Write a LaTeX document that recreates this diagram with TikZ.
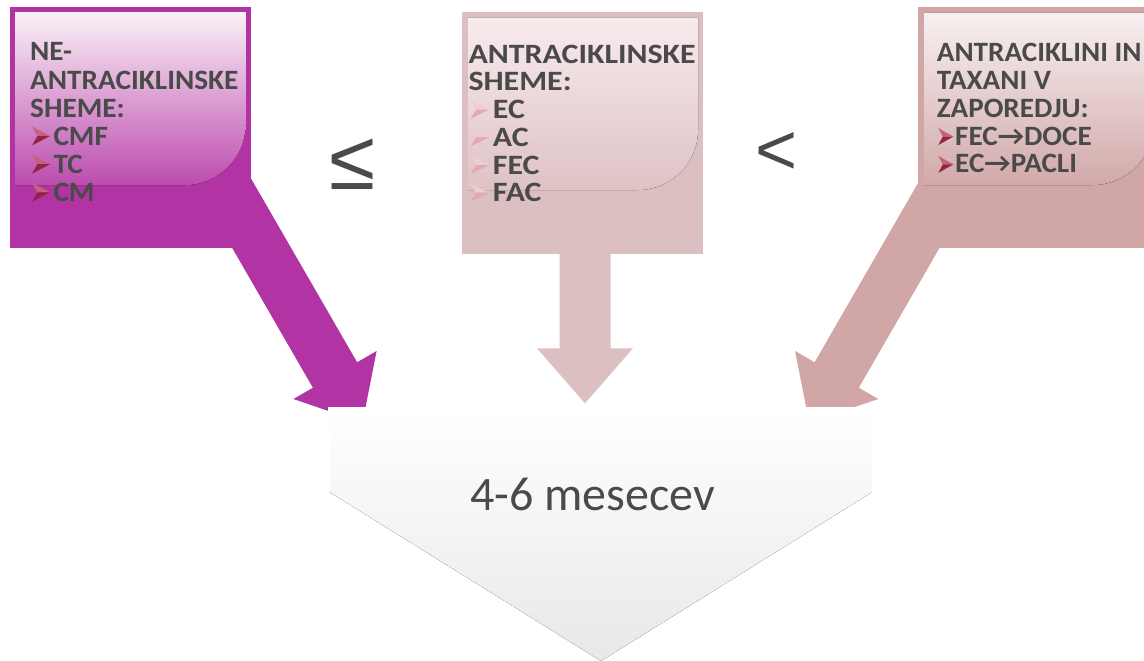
\documentclass[tikz,border=0pt]{standalone}
\usepackage{fontspec}
\setmainfont{Carlito}
\newfontfamily\boxfontL[FakeStretch=1.045]{Carlito}
\newfontfamily\boxfontM[FakeStretch=1.14]{Carlito}
\newfontfamily\boxfontR[FakeStretch=1.04]{Carlito}
\newfontfamily\symfont{Liberation Sans}
\definecolor{magbox}{RGB}{178,51,163}
\definecolor{midbox}{RGB}{220,191,193}
\definecolor{rbox}{RGB}{208,166,166}
\definecolor{txt}{RGB}{74,74,74}
\definecolor{bulTopA}{RGB}{196,98,124}
\definecolor{bulBotA}{RGB}{148,36,70}
\definecolor{bulTopB}{RGB}{240,204,210}
\definecolor{bulBotB}{RGB}{226,168,180}
\tikzset{
  boxshape/.style={minimum width=241pt, minimum height=241pt, inner sep=0pt, draw=none},
  linetext/.style={anchor=base west, inner sep=0pt, text=txt},
  relsym/.style={inner sep=0pt, text=txt},
  pics/bul/.style n args={4}{code={
    \fill[#1] (0,-#4) -- (#3,-#4/2) -- (0.3*#3,-#4/2) -- cycle;
    \fill[#2] (0,0) -- (#3,-#4/2) -- (0.3*#3,-#4/2) -- cycle;
  }},
}
\begin{document}
\begin{tikzpicture}[x=1pt,y=-1pt]
\path[use as bounding box] (0,0) rectangle (1144,661);
\clip (0,0) rectangle (1144,661);
\fill[white] (0,0) rectangle (1144,661);
% block arrows
\fill[magbox] (187.9,171.25) -- (232.1,145.75) -- (357.1,362.25) -- (376.6,351) -- (362.5,422.6) -- (293.4,399) -- (312.9,387.75) -- cycle;
\fill[rbox] (983.8,171.25) -- (939.6,145.75) -- (814.6,362.25) -- (795.1,351) -- (809.2,422.6) -- (878.3,399) -- (858.8,387.75) -- cycle;
\fill[midbox] (559.5,150) -- (610.5,150) -- (610.5,348.3) -- (633,348.3) -- (585,403.3) -- (537,348.3) -- (559.5,348.3) -- cycle;
% boxes
\node[boxshape, fill=magbox] (lbox) at (130.5,127.5) {};
\node[boxshape, fill=midbox] (mbox) at (582.8,133) {};
\node[boxshape, fill=rbox] (rbox) at (1038.8,127.3) {};
% glossy highlights
\fill[top color={rgb,255:red,250;green,242;blue,247}, middle color={rgb,255:red,228;green,182;blue,218}, bottom color={rgb,255:red,188;green,76;blue,174}]
  (15.7,12) -- (245.5,12) -- (245.5,125) .. controls (245.5,158) and (218,185) .. (185.5,185) -- (15.7,185) -- cycle;
\fill[top color={rgb,255:red,247;green,235;blue,238}, middle color={rgb,255:red,234;green,214;blue,217}, bottom color={rgb,255:red,222;green,194;blue,196}]
  (468,18) -- (698,18) -- (698,130) .. controls (698,163) and (671,190) .. (638,190) -- (468,190) -- cycle;
\fill[top color={rgb,255:red,248;green,240;blue,241}, middle color={rgb,255:red,230;green,206;blue,207}, bottom color={rgb,255:red,210;green,169;blue,169}]
  (924,13) -- (1153,13) -- (1153,125) .. controls (1153,158) and (1126,185) .. (1093,185) -- (924,185) -- cycle;
% left box text
\begin{scope}[every node/.style={linetext, font=\fontsize{28}{28}\selectfont\boxfontL\bfseries}]
\node (l1) at (30,61) {NE-};
\node (l2) at (30,89.2) {ANTRACIKLINSKE};
\node (l3) at (30,117.3) {SHEME:};
\node (l4) at (53.3,145.5) {CMF};
\node (l5) at (53.3,173.7) {TC};
\node (l6) at (53.3,201.8) {CM};
\end{scope}
\pic at (32,145.5) {bul={bulTopA}{bulBotA}{18}{19}};
\pic at (32,173.7) {bul={bulTopA}{bulBotA}{18}{19}};
\pic at (32,201.8) {bul={bulTopA}{bulBotA}{18}{19}};
% middle box text
\begin{scope}[every node/.style={linetext, font=\fontsize{28}{28}\selectfont\boxfontM\bfseries}]
\node (m1) at (468.3,63.3) {ANTRACIKLINSKE};
\node (m2) at (468.3,91) {SHEME:};
\node (m3) at (492.7,118.6) {EC};
\node (m4) at (492.7,146.3) {AC};
\node (m5) at (492.7,174) {FEC};
\node (m6) at (492.7,201.7) {FAC};
\end{scope}
\foreach \yy in {118.6,146.3,174,201.7}
  \pic at (470.7,\yy) {bul={bulTopB}{bulBotB}{18.5}{18}};
% right box text
\begin{scope}[every node/.style={linetext, font=\fontsize{28}{28}\selectfont\boxfontR\bfseries}]
\node (r1) at (936.7,61.7) {ANTRACIKLINI IN};
\node (r2) at (936.7,89.5) {TAXANI V};
\node (r3) at (936.7,117.3) {ZAPOREDJU:};
\node (r4) at (955,145.1) {FEC→DOCE};
\node (r5) at (955,172.9) {EC→PACLI};
\end{scope}
\pic at (938.3,145.1) {bul={bulTopA}{bulBotA}{15}{17}};
\pic at (938.3,172.9) {bul={bulTopA}{bulBotA}{15}{17}};
% relation symbols
\node[relsym, font=\fontsize{84}{84}\selectfont\symfont] (le) at (353,164.5) {≤};
\node[relsym, font=\fontsize{72}{72}\selectfont\symfont] (lt) at (776.5,154) {<};
% result chevron
\fill[top color=white, bottom color={rgb,255:red,232;green,232;blue,232}]
  (329,407.5) -- (872.7,407.5) -- (872.7,491.7) -- (601,661) -- (329,491.7) -- cycle;
\draw[white, line width=1.2pt] (329,491.7) -- (329,407.5) -- (872.7,407.5) -- (872.7,491.7);
\node[inner sep=0pt, anchor=base, text=txt, font=\fontsize{48}{48}\selectfont] (res) at (592.5,510) {4-6 mesecev};
\end{tikzpicture}
\end{document}
